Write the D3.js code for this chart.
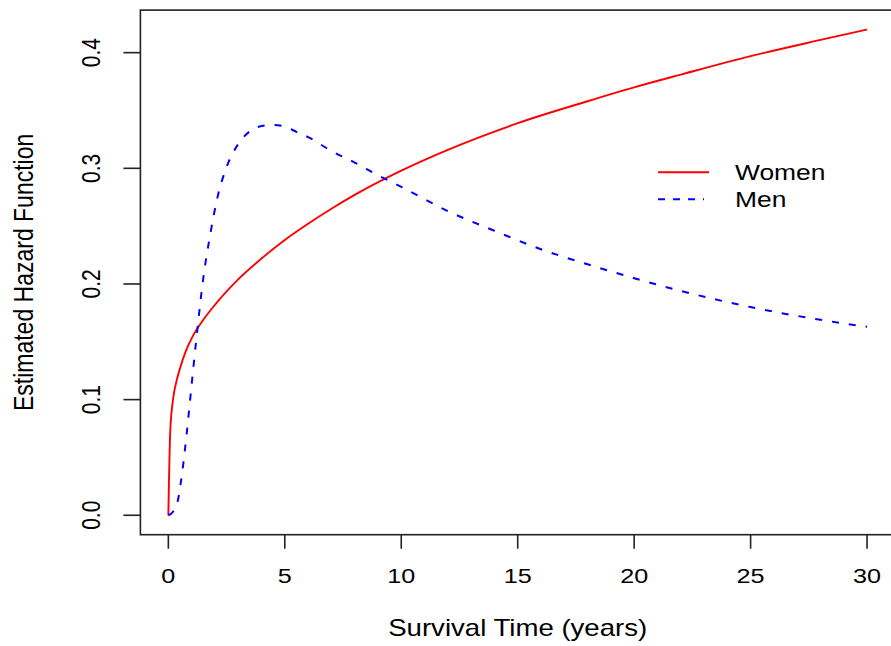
<!DOCTYPE html>
<html>
<head>
<meta charset="utf-8">
<script src="https://cdn.jsdelivr.net/npm/d3@7"></script>
<style>
  body { margin: 0; background: #fff; }
  svg { display: block; font-family: "Liberation Sans", Arial, Helvetica, sans-serif; }
</style>
</head>
<body>
<div id="chart"></div>
<script>
// hazard estimates
const womenTime = [0, 0.08, 0.2, 0.35, 0.5, 0.75, 1, 1.5, 2, 3, 4, 5, 6, 7, 8, 10, 12, 15, 18, 20, 22, 25, 28, 30];
const womenHazard = [0, 0.072, 0.100, 0.116, 0.127, 0.142, 0.153, 0.169, 0.182, 0.204, 0.222, 0.238, 0.252, 0.265, 0.277, 0.298, 0.316, 0.339, 0.358, 0.370, 0.381, 0.397, 0.411, 0.420];

const menTime = [0, 0.2, 0.4, 0.6, 0.8, 1.0, 1.2, 1.5, 1.8, 2.1, 2.5, 3.0, 3.5, 4.0, 4.5, 5.0, 5.5, 6, 7, 8, 9, 10, 12, 14, 16, 18, 20, 22, 25, 28, 30];
const menHazard = [0, 0.003, 0.012, 0.038, 0.073, 0.113, 0.152, 0.205, 0.243, 0.274, 0.301, 0.321, 0.332, 0.3365, 0.3375, 0.336, 0.3315, 0.327, 0.315, 0.305, 0.294, 0.284, 0.263, 0.246, 0.230, 0.217, 0.205, 0.194, 0.180, 0.169, 0.163];

const xTicks = [0, 5, 10, 15, 20, 25, 30];
const yTicks = [0.0, 0.1, 0.2, 0.3, 0.4];
const legendLabels = ["Women", "Men"];

const width = 891, height = 646;
const box = { left: 140.4, right: 895, top: 10.1, bottom: 534.7 };
const stretch = 1.2; // the picture's text is a bit wider than it is tall

let svg = d3.select("#chart").append("svg")
    .attr("width", width)
    .attr("height", height);

let x = d3.scaleLinear().domain([-1.2, 31.2]).range([box.left, box.right]);
let y = d3.scaleLinear().domain([-0.0168, 0.4368]).range([box.bottom, box.top]);

//plot frame
svg.append("rect")
    .attr("x", box.left)
    .attr("y", box.top)
    .attr("width", box.right - box.left)
    .attr("height", box.bottom - box.top)
    .style("fill", "none")
    .style("stroke", "#222")
    .style("stroke-width", 1.6);

//x axis ticks + labels
let xg = svg.append("g").selectAll("g")
    .data(xTicks)
    .enter()
    .append("g");
xg.append("line")
    .attr("x1", d => x(d)).attr("x2", d => x(d))
    .attr("y1", box.bottom).attr("y2", box.bottom + 14)
    .style("stroke", "#222").style("stroke-width", 1.6);
xg.append("text")
    .attr("transform", d => "translate(" + x(d) + "," + 583 + ") scale(" + stretch + ",1)")
    .style("text-anchor", "middle")
    .style("font-size", "21px")
    .text(d => d);

//y axis ticks + labels (rotated like R's default)
let yg = svg.append("g").selectAll("g")
    .data(yTicks)
    .enter()
    .append("g");
yg.append("line")
    .attr("x1", box.left - 17).attr("x2", box.left)
    .attr("y1", d => y(d)).attr("y2", d => y(d))
    .style("stroke", "#222").style("stroke-width", 1.6);
yg.append("text")
    .attr("transform", d => "translate(100," + y(d) + ") scale(" + stretch + ",1) rotate(-90)")
    .style("text-anchor", "middle")
    .style("font-size", "21px")
    .text(d => d.toFixed(1));

//axis titles
svg.append("text")
    .attr("transform", "translate(" + ((box.left + box.right) / 2) + ",636) scale(" + stretch + ",1)")
    .style("text-anchor", "middle")
    .style("font-size", "23px")
    .text("Survival Time (years)");

svg.append("text")
    .attr("transform", "translate(33," + ((box.top + box.bottom) / 2) + ") scale(" + stretch + ",1) rotate(-90)")
    .style("text-anchor", "middle")
    .style("font-size", "23px")
    .text("Estimated Hazard Function");

//curves
let line = d3.line()
    .x(d => x(d[0]))
    .y(d => y(d[1]))
    .curve(d3.curveMonotoneX);

let women = womenTime.map((t, i) => [t, womenHazard[i]]);
let men = menTime.map((t, i) => [t, menHazard[i]]);

svg.append("path")
    .attr("d", line(women))
    .style("fill", "none")
    .style("stroke", "#ff0000")
    .style("stroke-width", 1.9);

svg.append("path")
    .attr("d", line(men))
    .style("fill", "none")
    .style("stroke", "#0000ff")
    .style("stroke-width", 2)
    .style("stroke-dasharray", "7,10");

//legend
let legend = svg.append("g");
let legendY = [172.3, 199.3];
legend.selectAll("line")
    .data(legendLabels)
    .enter()
    .append("line")
    .attr("x1", 658).attr("x2", (d, i) => i == 0 ? 709 : 704)
    .attr("y1", (d, i) => legendY[i]).attr("y2", (d, i) => legendY[i])
    .style("stroke", (d, i) => i == 0 ? "#ff0000" : "#0000ff")
    .style("stroke-width", 1.9)
    .style("stroke-dasharray", (d, i) => i == 0 ? null : "7,8");
legend.selectAll("text")
    .data(legendLabels)
    .enter()
    .append("text")
    .attr("transform", (d, i) => "translate(735," + (legendY[i] + 7.8) + ") scale(" + stretch + ",1)")
    .style("font-size", "22px")
    .text(d => d);
</script>
</body>
</html>
